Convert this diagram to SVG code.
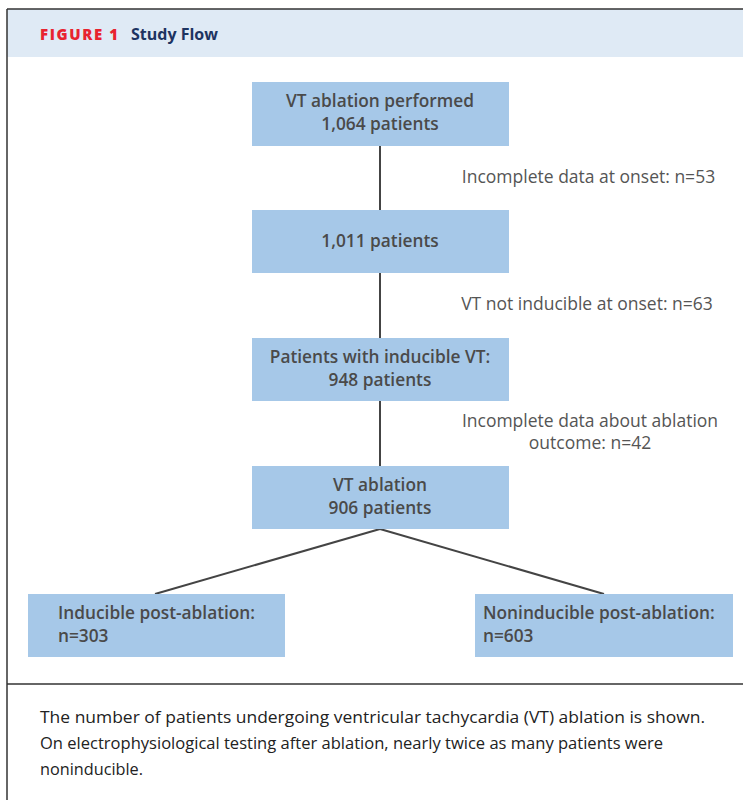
<svg xmlns="http://www.w3.org/2000/svg" width="743" height="800" viewBox="0 0 743 800">
<style>
.box{fill:#a6c8e8}
.bt{font-family:"Open Sans","Liberation Sans",sans-serif;font-size:17.3px;font-weight:600;fill:#4a4a4a;text-anchor:middle}
.btl{font-family:"Open Sans","Liberation Sans",sans-serif;font-size:17.3px;font-weight:600;fill:#4a4a4a}
.st{font-family:"Open Sans","Liberation Sans",sans-serif;font-size:17.5px;fill:#555;text-anchor:middle}
.cap{font-family:"Open Sans","Liberation Sans",sans-serif;font-size:16px;fill:#222}
.ln{stroke:#444;stroke-width:2;fill:none}
</style>
<rect x="0" y="0" width="743" height="800" fill="#fff"/>
<rect x="7" y="9" width="736" height="48" fill="#dfeaf5"/>
<g id="frame" fill="none" stroke="#333" stroke-width="1.5">
<line x1="7" y1="9" x2="743" y2="9"/>
<line x1="7" y1="9" x2="7" y2="800"/>
<line x1="7" y1="684" x2="743" y2="684"/>
</g>
<text x="40" y="40" font-family="Open Sans,Liberation Sans,sans-serif" font-size="15" font-weight="800" fill="#e8232f" textLength="78" lengthAdjust="spacing">FIGURE 1</text>
<text x="131" y="40" font-family="Open Sans,Liberation Sans,sans-serif" font-size="16" font-weight="700" fill="#1d3461">Study Flow</text>
<g id="connectors">
<line class="ln" x1="380" y1="146" x2="380" y2="210"/>
<line class="ln" x1="380" y1="273" x2="380" y2="338"/>
<line class="ln" x1="380" y1="401" x2="380" y2="466"/>
<line class="ln" x1="380" y1="529" x2="155" y2="594"/>
<line class="ln" x1="380" y1="529" x2="604" y2="594"/>
</g>
<g id="n1"><rect class="box" x="252" y="82" width="257" height="64"/>
<text class="bt" x="380" y="107">VT ablation performed</text>
<text class="bt" x="380" y="130">1,064 patients</text></g>
<g id="n2"><rect class="box" x="252" y="210" width="257" height="63"/>
<text class="bt" x="380" y="247">1,011 patients</text></g>
<g id="n3"><rect class="box" x="252" y="338" width="257" height="63"/>
<text class="bt" x="380" y="363">Patients with inducible VT:</text>
<text class="bt" x="380" y="386">948 patients</text></g>
<g id="n4"><rect class="box" x="252" y="466" width="257" height="63"/>
<text class="bt" x="380" y="491">VT ablation</text>
<text class="bt" x="380" y="514">906 patients</text></g>
<g id="n5"><rect class="box" x="28" y="594" width="257" height="63"/>
<text class="btl" x="58" y="619">Inducible post-ablation:</text>
<text class="btl" x="58" y="642">n=303</text></g>
<g id="n6"><rect class="box" x="475" y="594" width="258" height="63"/>
<text class="btl" x="483" y="619">Noninducible post-ablation:</text>
<text class="btl" x="483" y="642">n=603</text></g>
<g id="labels">
<text class="st" x="588.5" y="183">Incomplete data at onset: n=53</text>
<text class="st" x="587" y="310">VT not inducible at onset: n=63</text>
<text class="st" x="590" y="427">Incomplete data about ablation</text>
<text class="st" x="590" y="449">outcome: n=42</text>
</g>
<g id="caption">
<text class="cap" x="40" y="723" textLength="665" lengthAdjust="spacingAndGlyphs">The number of patients undergoing ventricular tachycardia (VT) ablation is shown.</text>
<text class="cap" x="40" y="749" textLength="623" lengthAdjust="spacingAndGlyphs">On electrophysiological testing after ablation, nearly twice as many patients were</text>
<text class="cap" x="40" y="775" textLength="103" lengthAdjust="spacingAndGlyphs">noninducible.</text>
</g>
</svg>
